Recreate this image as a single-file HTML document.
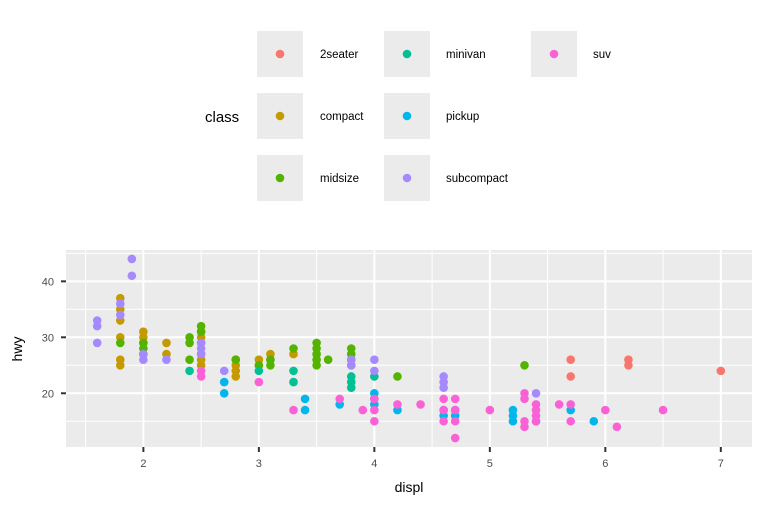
<!DOCTYPE html>
<html><head><meta charset="utf-8"><style>
body{margin:0;background:#fff;font-family:"Liberation Sans",sans-serif}
svg text{font-family:"Liberation Sans",sans-serif}
</style></head><body>
<svg id="chart" width="768" height="512">
<g id="legend">
<text x="205" y="122" font-size="15" fill="#000">class</text>
</g>
<rect x="66" y="250" width="686" height="197" fill="#EBEBEB"/>
<g id="grid"></g>
<g id="points"></g>
<g id="axes"></g>
<text x="22" y="349" font-size="14" text-anchor="middle" transform="rotate(-90 22 349)">hwy</text>
<text x="409" y="492" font-size="14" text-anchor="middle">displ</text>
</svg>
<script>
const classes=["2seater","compact","midsize","minivan","pickup","subcompact","suv"];
const colors=["#F8766D","#C49A00","#53B400","#00C094","#00B6EB","#A58AFF","#FB61D7"];
const xTicks=[2,3,4,5,6,7];
const yTicks=[20,30,40];
const subcompactPts=[[1.6,33],[1.6,32],[1.6,29],[1.8,36],[1.8,34],[1.9,44],[1.9,41],[2.0,27],[2.0,26],[2.2,26],[2.5,29],[2.5,28],[2.5,27],[2.7,24],[3.8,26],[3.8,25],[4.0,26],[4.0,24],[4.6,23],[4.6,22],[4.6,21],[5.4,20]];
const compactPts=[[1.8,37],[1.8,35],[1.8,33],[1.8,30],[1.8,26],[1.8,25],[2.0,31],[2.0,30],[2.0,29],[2.2,29],[2.2,27],[2.5,31],[2.5,30],[2.5,29],[2.5,27],[2.5,26],[2.5,25],[2.8,26],[2.8,25],[2.8,24],[2.8,23],[3.0,26],[3.0,25],[3.1,27],[3.1,26],[3.3,27]];
const midsizePts=[[1.8,29],[2.0,29],[2.0,28],[2.0,27],[2.4,30],[2.4,29],[2.4,26],[2.5,32],[2.5,31],[2.8,26],[3.0,25],[3.1,26],[3.1,25],[3.3,28],[3.5,29],[3.5,28],[3.5,27],[3.5,26],[3.5,25],[3.6,26],[3.8,28],[3.8,27],[3.8,26],[3.8,25],[4.2,23],[5.3,25]];
const minivanPts=[[2.4,24],[3.0,24],[3.3,24],[3.3,22],[3.8,23],[3.8,22],[3.8,21],[4.0,23]];
const pickupPts=[[2.7,22],[2.7,20],[3.4,19],[3.4,17],[3.7,18],[4.0,20],[4.0,19],[4.0,18],[4.2,17],[4.6,17],[4.6,16],[4.7,17],[4.7,16],[5.2,17],[5.2,16],[5.2,15],[5.4,15],[5.7,17],[5.9,15]];
const suvPts=[[2.5,23],[2.5,24],[3.0,22],[3.3,17],[3.7,19],[3.9,17],[4.0,19],[4.0,17],[4.0,15],[4.2,18],[4.4,18],[4.6,19],[4.6,17],[4.6,15],[4.7,19],[4.7,17],[4.7,15],[4.7,12],[5.0,17],[5.3,20],[5.3,19],[5.3,15],[5.3,14],[5.4,18],[5.4,17],[5.4,16],[5.4,15],[5.6,18],[5.7,18],[5.7,15],[6.0,17],[6.1,14],[6.5,17]];
const twoSeaterPts=[[5.7,26],[5.7,23],[6.2,26],[6.2,25],[7.0,24]];
const series=[twoSeaterPts,compactPts,midsizePts,minivanPts,pickupPts,subcompactPts,suvPts];
const NS="http://www.w3.org/2000/svg";
const X0=66,X1=752,Y0=250,Y1=447,xmin=1.33,xmax=7.27,ymin=10.4,ymax=45.6;
function xs(v){return X0+(v-xmin)/(xmax-xmin)*(X1-X0);}
function ys(v){return Y1-(v-ymin)/(ymax-ymin)*(Y1-Y0);}
function mk(t,a,p){const e=document.createElementNS(NS,t);for(const k in a)e.setAttribute(k,a[k]);p.appendChild(e);return e;}
const grid=document.getElementById('grid'),axes=document.getElementById('axes'),pts=document.getElementById('points'),leg=document.getElementById('legend');
xTicks.forEach(t=>{
 const m=mk('line',{x1:xs(t-0.5),x2:xs(t-0.5),y1:Y0,y2:Y1,stroke:'#fff','stroke-width':1},grid);
 
 
 const g=mk('line',{x1:xs(t),x2:xs(t),y1:Y0,y2:Y1,stroke:'#fff','stroke-width':2},grid);
 
 
 const k=mk('line',{x1:xs(t),x2:xs(t),y1:Y1,y2:Y1+5,stroke:'#333','stroke-width':2},axes);
 
 
 const l=mk('text',{x:xs(t),y:Y1+20,'font-size':11,fill:'#4D4D4D','text-anchor':'middle'},axes);
 l.textContent=t;
 
 
});
[xTicks[xTicks.length-1]+0.5].forEach(t=>{
 const m=mk('line',{x1:xs(t),x2:xs(t),y1:Y0,y2:Y1,stroke:'#fff','stroke-width':1},grid);
 
 
});
[15,25,35,45].forEach(t=>{
 const m=mk('line',{x1:X0,x2:X1,y1:ys(t),y2:ys(t),stroke:'#fff','stroke-width':1},grid);
 
 
});
yTicks.forEach(t=>{
 const g=mk('line',{x1:X0,x2:X1,y1:ys(t),y2:ys(t),stroke:'#fff','stroke-width':2},grid);
 
 
 const k=mk('line',{x1:X0-5,x2:X0,y1:ys(t),y2:ys(t),stroke:'#333','stroke-width':2},axes);
 
 
 const l=mk('text',{x:X0-12,y:ys(t)+4,'font-size':11,fill:'#4D4D4D','text-anchor':'end'},axes);
 l.textContent=t;
 
 
});
series.forEach((s,i)=>{
 s.forEach(p=>{
  const c=mk('circle',{cx:xs(p[0]),cy:ys(p[1]),r:4.3,fill:colors[i]},pts);
  
  
 });
});
const colX=[257,384,531],labX=[320,446,593],rowY=[31,93,155];
classes.forEach((c,i)=>{
 const col=Math.floor(i/3),row=i%3;
 const k=mk('rect',{x:colX[col],y:rowY[row],width:46,height:46,fill:'#EBEBEB'},leg);
 
 
 const d=mk('circle',{cx:colX[col]+23,cy:rowY[row]+23,r:4.3,fill:colors[i]},leg);
 
 
 const t=mk('text',{x:labX[col],y:rowY[row]+27,'font-size':11.5,fill:'#000'},leg);
 t.textContent=c;
 
 
});
</script>
</body></html>
